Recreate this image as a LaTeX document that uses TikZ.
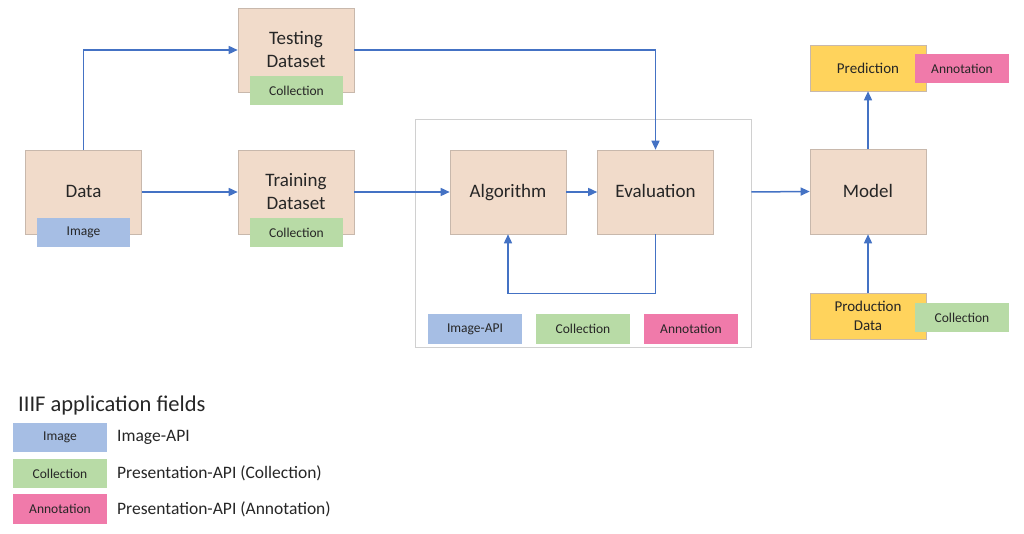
\documentclass[tikz,border=0pt]{standalone}
\usepackage{fontspec}
\setmainfont{Carlito}
\usetikzlibrary{arrows.meta,positioning}
\definecolor{peach}{RGB}{241,219,202}
\definecolor{peachline}{RGB}{200,184,172}
\definecolor{tagblue}{RGB}{166,190,228}
\definecolor{taggreen}{RGB}{184,219,166}
\definecolor{tagpink}{RGB}{240,122,170}
\definecolor{gold}{RGB}{255,211,92}
\definecolor{arrowblue}{RGB}{68,114,196}
\definecolor{ink}{RGB}{38,38,38}
\begin{document}
\begin{tikzpicture}[x=1pt,y=-1pt,
                    every node/.style={text=ink,inner sep=0pt},
                    step box/.style={rectangle,draw=peachline,line width=0.6pt,fill=peach,
                      minimum width=116,minimum height=84,align=center,
                      font=\fontsize{19}{23}\selectfont},
                    one line/.style={text height=12pt,text depth=0pt},
                    out box/.style={step box,fill=gold,draw=peachline,minimum height=46,
                      font=\fontsize{15}{19}\selectfont},
                    tag/.style={rectangle,minimum width=93,minimum height=29,
                      font=\fontsize{13.5}{16}\selectfont},
                    img tag/.style={tag,fill=tagblue},
                    col tag/.style={tag,fill=taggreen},
                    ann tag/.style={tag,fill=tagpink},
                    flow/.style={draw=arrowblue,line width=1.5pt,
                      -{Triangle[length=9pt,width=8pt]}}]
  \useasboundingbox (0,0) rectangle (1024,534);

  % Training loop frame
  \node[draw={rgb,255:red,208;green,208;blue,208},line width=0.8pt,
        minimum width=336,minimum height=228] (group) at (583,233) {};

  % Define vertices
  \node[step box,one line] (data) at (83.5,192) {Data};
  \node[step box] (test) at (296,50) {Testing\\Dataset};
  \node[step box] (train) at (296,192) {Training\\Dataset};
  \node[step box,one line] (algo) at (508,192) {Algorithm};
  \node[step box,one line] (eval) at (655.5,192) {Evaluation};
  \node[step box,one line,minimum height=85] (model) at (868,191.5) {Model};
  \node[out box] (pred) at (868,68) {Prediction};
  \node[out box] (prod) at (868,316) {Production\\Data};

  % IIIF tags
  \node[img tag] (data tag) at (83.5,232.5) {Image};
  \node[col tag] (test tag) at (296.5,90.5) {Collection};
  \node[col tag] (train tag) at (296.5,232.5) {Collection};
  \node[img tag,minimum width=94,minimum height=30] (group img) at (475,329) {Image-API};
  \node[col tag,minimum width=94,minimum height=30] (group col) at (583,329) {Collection};
  \node[ann tag,minimum width=94,minimum height=30] (group ann) at (691,329) {Annotation};
  \node[ann tag,minimum width=94] (pred tag) at (962,68.5) {Annotation};
  \node[col tag,minimum width=94] (prod tag) at (962,317.5) {Collection};

  % Connectors
  \draw[flow] (data.north) |- (test.west);
  \draw[flow] (data) -- (train);
  \draw[flow] (train.east) -- (algo.west);
  \draw[flow] (algo) -- (eval);
  \draw[flow] (test.east) -| (eval.north);
  \draw[flow] (eval.south) -- ++(0,59) -| (algo.south);
  \draw[flow] (eval.east -| group.east) -- (model.west);
  \draw[flow] (model) -- (pred);
  \draw[flow] (prod) -- (model);

  % Legend
  \node[anchor=west,font=\fontsize{22.5}{26}\selectfont] (legend) at (18,405) {IIIF application fields};
  \node[img tag,minimum width=94] (key img) at (60,437.5) {Image};
  \node[col tag,minimum width=94] (key col) at (60,473.5) {Collection};
  \node[ann tag,minimum width=94,minimum height=30] (key ann) at (60,509) {Annotation};
  \node[anchor=west,font=\fontsize{17.5}{20}\selectfont] at (117,437.5) {Image-API};
  \node[anchor=west,font=\fontsize{17.5}{20}\selectfont] at (117,473.5) {Presentation-API (Collection)};
  \node[anchor=west,font=\fontsize{17.5}{20}\selectfont] at (117,509) {Presentation-API (Annotation)};
\end{tikzpicture}
\end{document}
